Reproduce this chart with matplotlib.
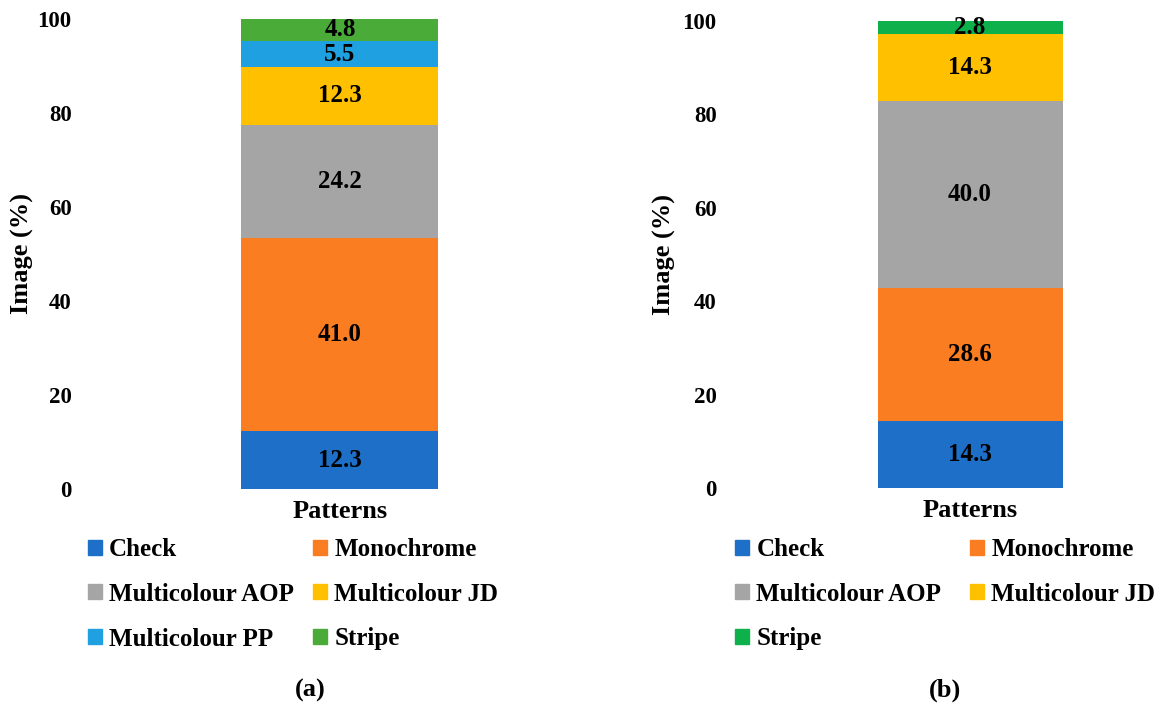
import matplotlib
matplotlib.use("Agg")
import matplotlib.pyplot as plt
from matplotlib.patches import Patch

plt.rcParams.update({
    "font.family": "Liberation Serif",
    "font.weight": "bold",
    "axes.labelweight": "bold",
    "font.size": 16.5,
})

# panel (a)
cats_a = ["Check", "Monochrome", "Multicolour AOP", "Multicolour JD",
          "Multicolour PP", "Stripe"]
vals_a = [12.3, 41.0, 24.2, 12.3, 5.5, 4.8]
cols_a = ["#1d6fc8", "#fb7d22", "#a5a5a5", "#ffc000", "#1fa0e0", "#4aab38"]

# panel (b)
cats_b = ["Check", "Monochrome", "Multicolour AOP", "Multicolour JD", "Stripe"]
vals_b = [14.3, 28.6, 40.0, 14.3, 2.8]
cols_b = ["#1d6fc8", "#fb7d22", "#a5a5a5", "#ffc000", "#0db04a"]

W, H = 1169, 716
fig = plt.figure(figsize=(W / 100, H / 100), dpi=100)


def px_axes(x0, x1, ytop, ybot):
    return fig.add_axes([x0 / W, 1 - ybot / H, (x1 - x0) / W, (ybot - ytop) / H])


def panel(ax, cats, vals, cols, xlim, ylab_x):
    bottom = 0.0
    for c, v, col in zip(cats, vals, cols):
        ax.bar(0, v, width=1.0, bottom=bottom, color=col, label=c)
        ax.text(0, bottom + v / 2, f"{v:.1f}", ha="center", va="center",
                fontsize=18, fontweight="bold")
        bottom += v
    ax.set_xlim(*xlim)
    ax.set_ylim(0, 100)
    ax.set_yticks(range(0, 101, 20))
    ax.set_xticks([0])
    ax.set_xticklabels(["Patterns"], fontsize=19)
    ax.tick_params(length=0)
    ax.tick_params(axis="x", pad=8)
    ax.tick_params(axis="y", pad=6)
    for s in ax.spines.values():
        s.set_visible(False)
    ax.set_ylabel("Image (%)", fontsize=19)
    ax.yaxis.set_label_coords(ylab_x, 0.5)


ax_a = px_axes(80, 600, 19, 489)
panel(ax_a, cats_a, vals_a, cols_a, (-(340 - 80) / 197, (600 - 340) / 197),
      (34 - 80) / 520)
ax_b = px_axes(725, 1160, 21, 488)
panel(ax_b, cats_b, vals_b, cols_b, (-(970 - 725) / 185, (1160 - 970) / 185),
      (676 - 725) / 435)

# legends (row-wise order -> reorder for column filling)
leg_kw = dict(ncol=2, loc="upper left", frameon=False, fontsize=18,
              handlelength=0.55, handleheight=0.55, handletextpad=0.3,
              labelspacing=0.87, borderpad=0.0, borderaxespad=0.0)

h_a = [Patch(color=c) for c in cols_a]
order_a = [0, 2, 4, 1, 3, 5]
fig.legend([h_a[i] for i in order_a], [cats_a[i] for i in order_a],
           bbox_to_anchor=(88 / W, 1 - 538 / H), columnspacing=0.75, **leg_kw)

h_b = [Patch(color=c) for c in cols_b]
order_b = [0, 2, 4, 1, 3]
fig.legend([h_b[i] for i in order_b], [cats_b[i] for i in order_b],
           bbox_to_anchor=(735 / W, 1 - 538 / H), columnspacing=1.15, **leg_kw)

fig.text(310 / W, 1 - 690 / H, "(a)", ha="center", va="center", fontsize=19)
fig.text(945 / W, 1 - 690 / H, "(b)", ha="center", va="center", fontsize=19)

fig.savefig("out.png", dpi=100)
